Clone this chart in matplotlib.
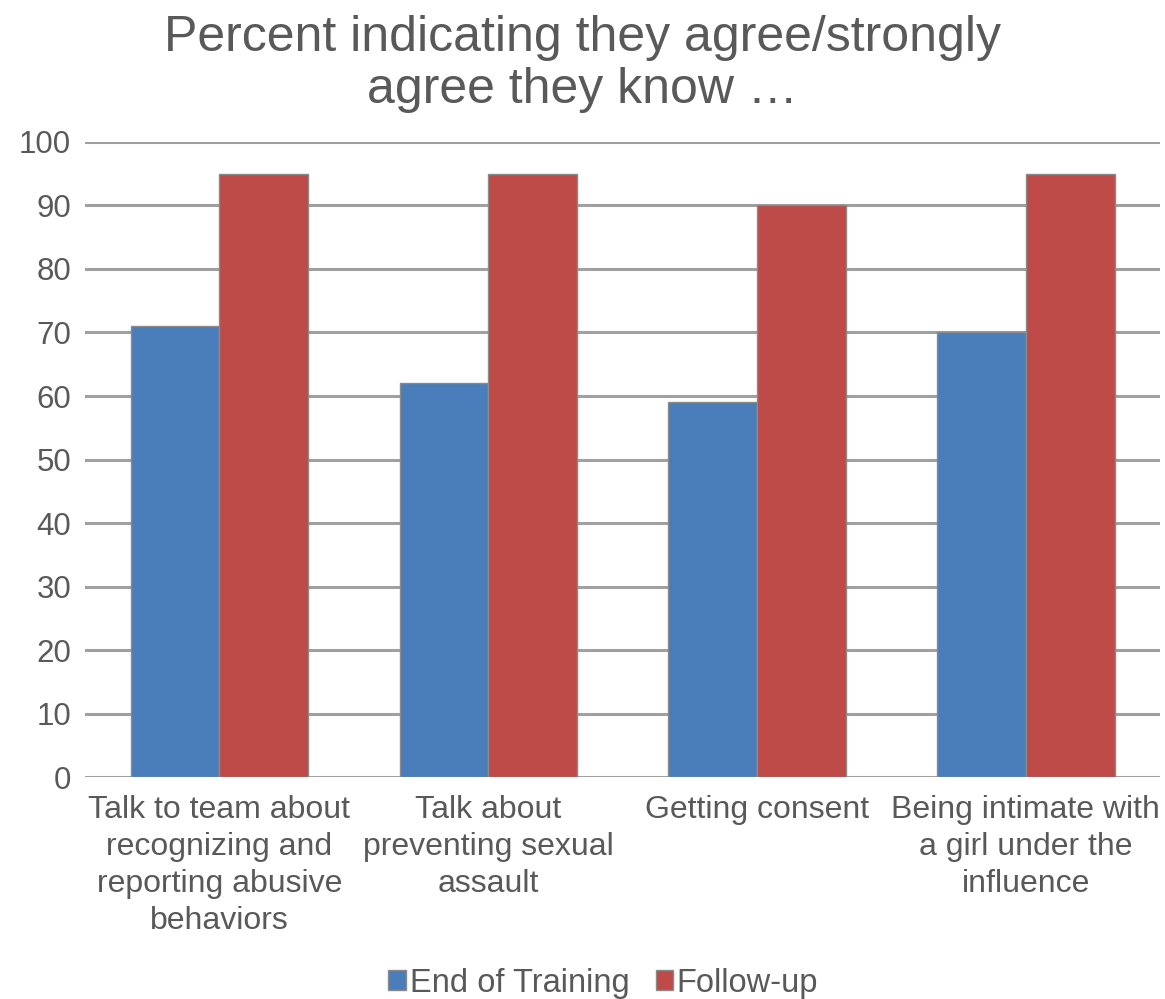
import numpy as np
import matplotlib.pyplot as plt

categories = ["Talk to team about\nrecognizing and\nreporting abusive\nbehaviors",
              "Talk about\npreventing sexual\nassault",
              "Getting consent",
              "Being intimate with\na girl under the\ninfluence"]
end_of_training = [71, 62, 59, 70]
follow_up = [95, 95, 90, 95]
yticks = list(range(0, 101, 10))

plt.rcParams['font.family'] = ['Liberation Sans', 'DejaVu Sans']
txt = '#595959'

fig = plt.figure(figsize=(11.65, 9.99), dpi=100)
ax = fig.add_axes([0.073, 0.222, 0.923, 0.636])

x = np.arange(len(categories))
w = 0.33
ax.bar(x - w / 2, end_of_training, w, color='#4A7EBB', edgecolor='#8a8a8a', linewidth=1,
       label='End of Training', zorder=3)
ax.bar(x + w / 2, follow_up, w, color='#BE4B48', edgecolor='#8a8a8a', linewidth=1,
       label='Follow-up', zorder=3)

ax.set_xlim(-0.5, len(categories) - 0.5)
ax.set_ylim(0, 100)
ax.set_yticks(yticks)
ax.grid(axis='y', color='#a0a0a0', linewidth=2.2, zorder=0)
for s in ax.spines.values():
    s.set_visible(False)
ax.tick_params(length=0, labelsize=22.5, colors=txt)
ax.tick_params(axis='y', pad=10)
ax.set_xticks(x)
ax.set_xticklabels(categories, linespacing=1.3, fontsize=23)
ax.tick_params(axis='x', pad=13)

fig.text(0.5, 0.985, "Percent indicating they agree/strongly\nagree they know \u2026",
         ha='center', va='top', fontsize=36, color=txt, linespacing=1.18)

ax.legend(loc='center', bbox_to_anchor=(0.5 - 0.018, -0.324), ncol=2, frameon=False,
          fontsize=23.5, labelcolor=txt, handlelength=0.55, handleheight=0.6,
          handletextpad=0.1, columnspacing=0.8)

fig.savefig('out.png', dpi=100)
